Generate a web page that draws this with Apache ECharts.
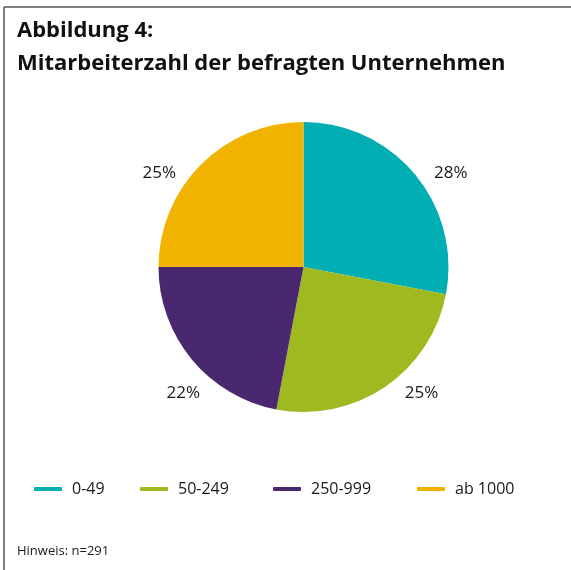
<!DOCTYPE html>
<html>
<head>
<meta charset="utf-8">
<script src="https://cdn.jsdelivr.net/npm/echarts@6/dist/echarts.min.js"></script>
<style>
  html, body { margin: 0; padding: 0; background: #fff; }
  #chart { width: 571px; height: 570px; }
</style>
</head>
<body>
<div id="chart"></div>
<script>
// Mitarbeiterzahl (Anteile in %)
var categories = ['0-49', '50-249', '250-999', 'ab 1000'];
var shares = [28, 25, 22, 25];
var colors = ['#00AEB3', '#9FB920', '#4A2870', '#F1B300'];
var legendLeft = [34, 140, 273, 417];
// small label shifts to sit where the original places them
var labelNudge = [[3, 8], [7, -5], [24, 25], [-10, 19]];

var font = '"Open Sans", "Noto Sans", sans-serif';

var myChart = echarts.init(document.getElementById('chart'));

var pieData = categories.map(function (name, i) {
  return { name: name, value: shares[i], itemStyle: { color: colors[i] } };
});

var legends = categories.map(function (name, i) {
  return {
    data: [name],
    left: legendLeft[i],
    top: 481,
    padding: 0,
    icon: 'roundRect',
    itemWidth: 28,
    itemHeight: 4,
    itemGap: 0,
    selectedMode: false,
    textStyle: { fontFamily: font, fontSize: 16, color: '#1a1a1a', padding: [0, 0, 0, 5] }
  };
});

var option = {
  animation: false,
  color: colors,
  title: {
    text: 'Abbildung 4:\nMitarbeiterzahl der befragten Unternehmen',
    left: 12,
    top: 9,
    textStyle: {
      fontFamily: font,
      fontSize: 22,
      fontWeight: 'bold',
      lineHeight: 33,
      color: '#111'
    }
  },
  legend: legends,
  graphic: [
    { type: 'line', shape: { x1: 4, y1: 7, x2: 571, y2: 7 }, style: { stroke: '#555', lineWidth: 1.5 } },
    { type: 'line', shape: { x1: 4, y1: 7, x2: 4, y2: 570 }, style: { stroke: '#555', lineWidth: 1.5 } },
    {
      type: 'text', left: 17, top: 545,
      style: { text: 'Hinweis: n=291', font: '13px ' + font, fill: '#1a1a1a' }
    }
  ],
  series: [
    {
      type: 'pie',
      center: [303.5, 267],
      radius: 145,
      startAngle: 90,
      clockwise: true,
      data: pieData,
      label: {
        show: true,
        position: 'outside',
        formatter: '{c}%',
        fontFamily: font,
        fontSize: 17,
        color: '#1a1a1a'
      },
      labelLine: { show: false, length: 14, length2: 0 },
      labelLayout: function (params) {
        var n = labelNudge[params.dataIndex];
        return { dx: n[0], dy: n[1] };
      },
      emphasis: { disabled: true }
    }
  ]
};

myChart.setOption(option);
</script>
</body>
</html>
